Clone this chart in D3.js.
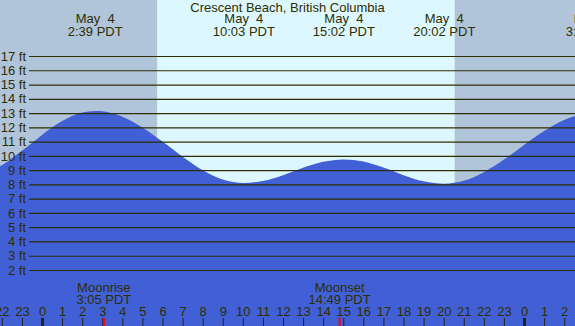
<!DOCTYPE html>
<html><head><meta charset="utf-8">
<script src="https://cdn.jsdelivr.net/npm/d3@7"></script>
<style>
html,body{margin:0;padding:0;background:#fff;}
svg{display:block;}
text{font-family:"Liberation Sans",Arial,sans-serif;font-size:13px;fill:#2e2e00;}
</style></head><body>
<svg id="c" width="575" height="326"></svg>
<script>
// Tide heights (ft), hours relative to May 4 00:00 PDT
const tideHours   = [-3, -2, -1, 0, 1, 2, 2.65, 3, 4, 5, 6, 7, 8, 9, 10.05, 11, 12, 13, 14, 15.03, 16, 17, 18, 19, 20.03, 21, 22, 23, 24, 25, 26, 27, 27.5];
const tideHeights = [8.67, 9.34, 10.35, 11.47, 12.44, 13.04, 13.15, 13.12, 12.75, 11.99, 11.0, 9.94, 9.0, 8.35, 8.1, 8.24, 8.65, 9.16, 9.58, 9.75, 9.6, 9.18, 8.65, 8.22, 8.05, 8.25, 8.85, 9.74, 10.77, 11.75, 12.52, 12.95, 13.0];

const extremeHours = [2.65, 10.05, 15.03, 20.03, 27.45];
const extremeDates = ["May  4", "May  4", "May  4", "May  4", "May  5"];
const extremeTimes = ["2:39 PDT", "10:03 PDT", "15:02 PDT", "20:02 PDT", "3:27 PDT"];

const sunriseHour = 5.73, sunsetHour = 20.55;
const moonNames = ["Moonrise", "Moonset"];
const moonHours = [3.08, 14.82];
const moonTimes = ["3:05 PDT", "14:49 PDT"];

const feetTicks = [2,3,4,5,6,7,8,9,10,11,12,13,14,15,16,17];
const hourTicks = d3.range(-2, 27);
const title = "Crescent Beach, British Columbia";

const W = 575, H = 326;
const svg = d3.select("#c");
const x = d3.scaleLinear().domain([0, 24]).range([42, 524]);
const y = d3.scaleLinear().domain([2, 17]).range([270, 56]);

// background: night / day
svg.append("rect").attr("x",0).attr("y",0).attr("width",W).attr("height",H).attr("fill","#b0c4da");
svg.append("rect").attr("x",x(sunriseHour)).attr("y",0)
  .attr("width",x(sunsetHour)-x(sunriseHour)).attr("height",H).attr("fill","#ddf7fe");

// tide area
const area = d3.area().x((d,i)=>x(tideHours[i])).y0(H).y1(d=>y(d)).curve(d3.curveMonotoneX);
svg.append("path").datum(tideHeights).attr("d",area).attr("fill","#4160d6");

// y grid + labels
const yAxis = d3.axisLeft(y).tickValues(feetTicks).tickFormat(d=>d+" ft")
  .tickSize(-(W-29)).tickPadding(3);
const gy = svg.append("g").attr("transform","translate(29,0)").call(yAxis);
gy.select(".domain").remove();
gy.selectAll(".tick line").attr("stroke","#2e2e00").attr("stroke-width",1.2);
gy.selectAll(".tick text").attr("font-size",12).attr("font-family","Liberation Sans, Arial, sans-serif").attr("fill","#2e2e00");

// title
svg.append("text").attr("x",W/2).attr("y",12).attr("text-anchor","middle").text(title);

// tide extreme labels
extremeHours.forEach((h,i)=>{
  svg.append("text").attr("x",x(h)).attr("y",23).attr("text-anchor","middle").attr("xml:space","preserve").text(extremeDates[i]);
  svg.append("text").attr("x",x(h)).attr("y",36).attr("text-anchor","middle").text(extremeTimes[i]);
});

// moon labels
moonHours.forEach((h,i)=>{
  svg.append("text").attr("x",x(h)).attr("y",292).attr("text-anchor","middle").attr("fill","#222").text(moonNames[i]);
  svg.append("text").attr("x",x(h)).attr("y",304).attr("text-anchor","middle").attr("fill","#222").text(moonTimes[i]);
});

// hour axis
const xAxis = d3.axisTop(x).tickValues(hourTicks).tickFormat(d=>((d%24)+24)%24).tickSize(8).tickPadding(2);
const gx = svg.append("g").attr("transform",`translate(0,${H})`).call(xAxis);
gx.select(".domain").remove();
gx.selectAll(".tick line").attr("stroke","#222").attr("stroke-width",d=>(((d%24)+24)%24===0)?3:1);
gx.selectAll(".tick text").attr("font-size",12.5).attr("font-family","Liberation Sans, Arial, sans-serif").attr("fill","#222");

// moon ticks
svg.selectAll(".moontick").data(moonHours).enter().append("line")
  .attr("x1",d=>x(d)).attr("x2",d=>x(d)).attr("y1",H-8).attr("y2",H)
  .attr("stroke","#ff0000").attr("stroke-width",2);
</script>
</body></html>
